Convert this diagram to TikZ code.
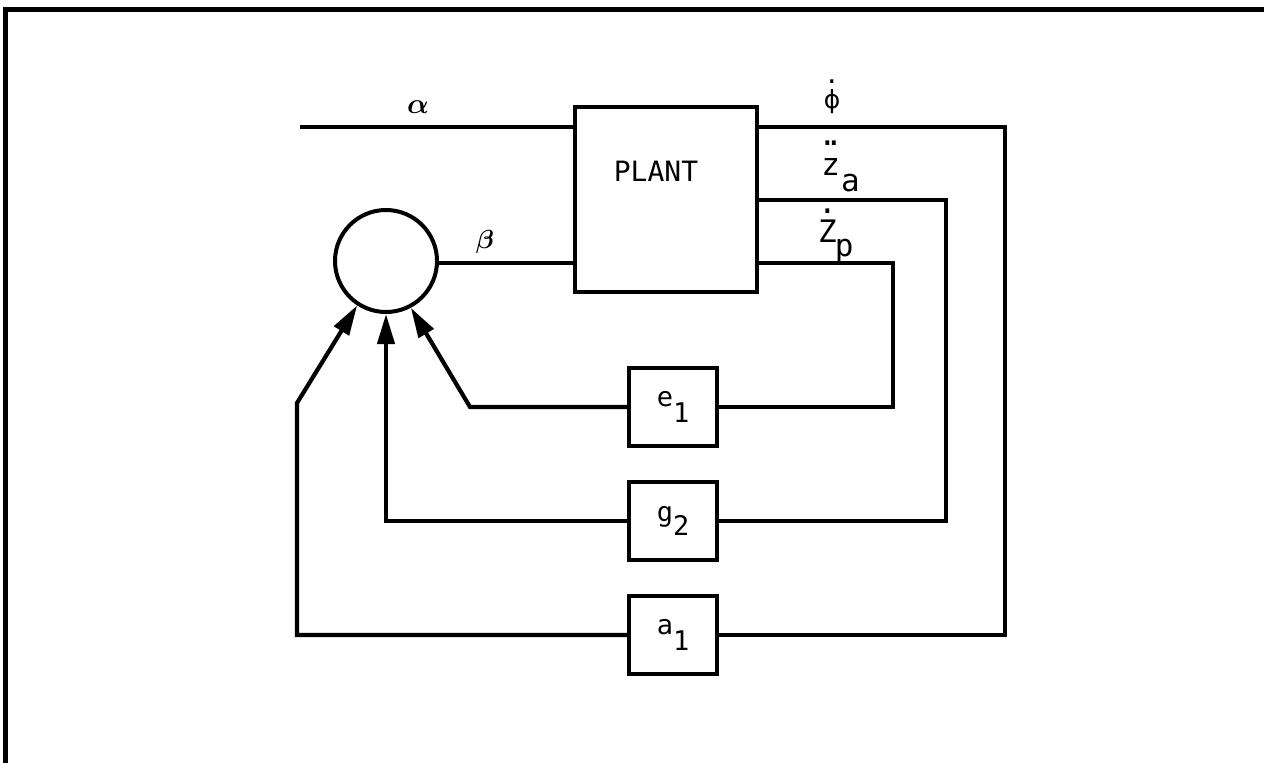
\documentclass[tikz,border=0pt]{standalone}
\usepackage{amsmath}
\usepackage{graphicx}
\usepackage{fontspec}
\setmainfont{DejaVu Sans Mono}
\newfontfamily\phifont{DejaVu Sans}
\usetikzlibrary{arrows.meta}
\newcommand\lowsub[2]{\raisebox{-#1}{#2}}
\begin{document}
\begin{tikzpicture}[x=1pt,y=-1pt,
  wire/.style={line width=4.2pt},
  blk/.style={draw,line width=3.2pt,minimum width=88pt,minimum height=78pt,inner sep=0pt,font=\fontsize{27}{30}\selectfont},
  arr/.style={wire,-{Triangle[length=30pt,width=17pt]}},
  lbl/.style={inner sep=0pt,font=\fontsize{31}{34}\selectfont},
  greek/.style={inner sep=0pt,font=\fontsize{24.88}{30}\selectfont}]
\useasboundingbox (0,0) rectangle (1264,763);
\draw[line width=5pt] (5,763) -- (5,9) -- (1264,9);
% blocks
\node[draw,line width=4pt,minimum width=182pt,minimum height=185pt,inner sep=0pt] (plant) at (666,199.5) {};
\node[inner sep=0pt,font=\fontsize{28}{30}\selectfont] (plantlbl) at (656,171) {PLANT};
\node[draw,circle,line width=4pt,minimum size=102pt,inner sep=0pt] (sum) at (386,261) {};
\node[blk] (e1) at (673,407) {\raisebox{6pt}{e\lowsub{16pt}{1}}};
\node[blk] (g2) at (673,521) {\raisebox{2pt}{g\lowsub{14pt}{2}}};
\node[blk] (a1) at (673,635) {\raisebox{6pt}{a\lowsub{16pt}{1}}};
% coordinates
\coordinate (ain) at (300,127);
\coordinate (phiR) at (1005,127);
\coordinate (zaR) at (946,200);
\coordinate (zpR) at (893,263);
\coordinate (aK) at (297,403);
\coordinate (eK) at (470,407);
% inputs
\draw[wire] (ain) -- (ain -| plant.west);
\draw[wire] (sum.east) ++(0,2) coordinate (bst) -- (bst -| plant.west);
% outputs and feedback
\draw[wire] (plant.east |- phiR) -- (phiR) |- (a1.east);
\draw[wire] (plant.east |- zaR) -- (zaR) |- (g2.east);
\draw[wire] (plant.east |- zpR) -- (zpR) |- (e1.east);
\draw[arr] (a1.west) -| (aK) -- (sum.-123);
\draw[arr] (g2.west) -| (sum.south);
\draw[arr] (e1.west) -- (eK) -- (sum.-62);
% labels
\node[greek] (alab) at (418,107) {\scalebox{1.15}{$\boldsymbol{\alpha}$}};
\node[greek] (blab) at (485,242) {\scalebox{1.05}{$\boldsymbol{\beta}$}};
\node[inner sep=0pt,anchor=base,font=\fontsize{25}{28}\selectfont] (philab) at (832,108) {\shortstack{.\\[3pt]\phifont ϕ}};
\node[lbl,anchor=base west] (zalab) at (818,175) {\shortstack{.\kern-0.4em.\\[10pt]z}\kern-2pt\lowsub{16pt}{a}};
\node[lbl,anchor=base west] (zplab) at (818,242) {\shortstack{.\\[3pt]Z}\kern-2pt\lowsub{14pt}{p}};
\end{tikzpicture}
\end{document}
